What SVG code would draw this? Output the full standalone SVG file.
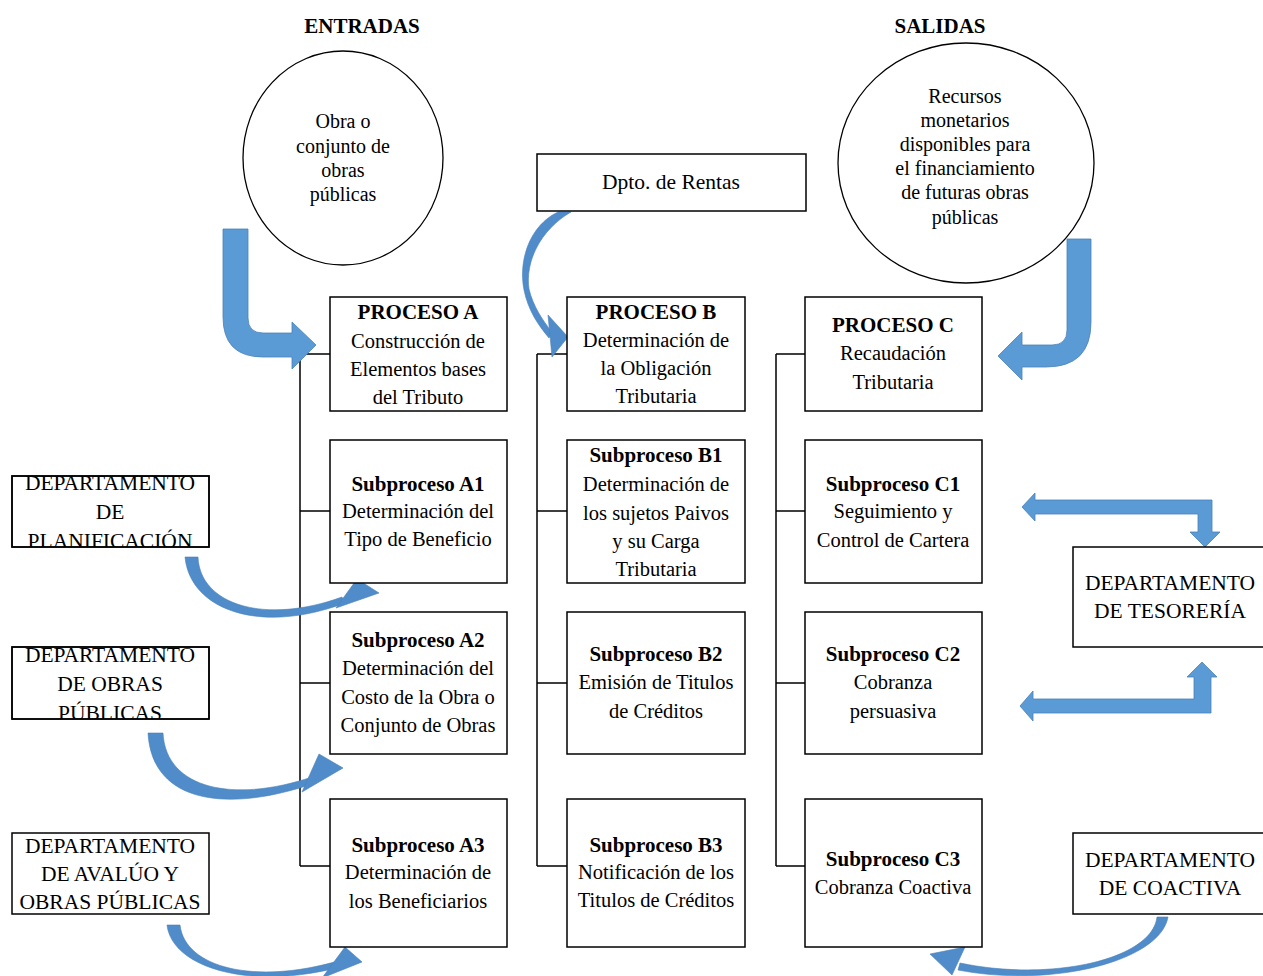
<svg xmlns="http://www.w3.org/2000/svg" width="1263" height="976" viewBox="0 0 1263 976">
<style>
.bx{fill:#fff;stroke:#000;stroke-width:1.5}
.cl{fill:#fff;stroke:#000;stroke-width:1.3}
.t{font-family:"Liberation Serif","Times New Roman",serif;font-size:20.5px;fill:#000;text-anchor:middle}
.b{font-weight:bold;font-size:21px}
.d{font-size:21.5px}
.c{font-size:20px}
.h{font-family:"Liberation Serif","Times New Roman",serif;font-size:21px;font-weight:bold;text-anchor:middle}
.ln{stroke:#000;stroke-width:1.5;fill:none}
.ar{fill:#5B9BD5;stroke:#4A82B8;stroke-width:0.8}
.cv{fill:#4F8CC9;stroke:#4A82B8;stroke-width:0.6}
</style>
<defs>
<clipPath id="cp1"><rect x="12" y="476" width="197" height="71"/></clipPath>
<clipPath id="cp2"><rect x="12" y="647" width="197" height="72"/></clipPath>
</defs>

<text class="h" x="362" y="33">ENTRADAS</text>
<text class="h" x="940" y="33">SALIDAS</text>

<g id="connectors">
<path class="ln" d="M300,354 V866 M300,354 H330 M300,511 H330 M300,683 H330 M300,866 H330"/>
<path class="ln" d="M537,354 V866 M537,354 H567 M537,511 H567 M537,683 H567 M537,866 H567"/>
<path class="ln" d="M776,354 V866 M776,354 H805 M776,511 H805 M776,683 H805 M776,866 H805"/>
<path class="ar" d="M223,229 L248,229 L248,318 Q248,333 263,333 L292,333 L292,322 L316,345 L292,369 L292,357 L263,357 Q223,357 223,317 Z"/>
<path class="ar" d="M1067,239 L1091,239 L1091,322 Q1091,367 1046,367 L1022,367 L1022,380 L998,356 L1022,332 L1022,345 L1052,345 Q1067,345 1067,330 Z"/>
<path class="cv" d="M558,212 C530,225 518,260 524,290 C528,310 538,325 549,338 L552,332 C543,321 533,306 529,289 C525,262 540,230 571,212 Z"/>
<path class="cv" d="M548,315 L568,337 L552,357 Z"/>
<path class="cv" d="M185,557 C190,610 260,635 345,603 L342,597 C265,625 200,605 198,557 Z"/>
<path class="cv" d="M336,608 L357,579 L379,593 Z"/>
<path class="cv" d="M148,733 C152,805 230,812 312,784 L312,777 C235,803 166,790 163,733 Z"/>
<path class="cv" d="M302,792 L319,754 L343,768 Z"/>
<path class="cv" d="M167,925 C172,968 250,990 336,968 L338,961 C255,985 185,968 180,925 Z"/>
<path class="cv" d="M322,978 L345,947 L362,962 Z"/>
<path class="cv" d="M1168,917 C1160,962 1050,988 958,970 L960,963 C1050,982 1152,960 1157,917 Z"/>
<path class="cv" d="M930,954 L965,947 L952,975 Z"/>
<path class="ar" d="M1022,507 L1035,493 L1035,500 L1212,500 L1212,532 L1220,532 L1205,547 L1190,532 L1198,532 L1198,514 L1035,514 L1035,521 Z"/>
<path class="ar" d="M1020,706 L1033,691 L1033,699 L1194,699 L1194,677 L1187,677 L1202,662 L1217,677 L1211,677 L1211,713 L1033,713 L1033,721 Z"/>
</g>

<g id="entrada">
<ellipse class="cl" cx="343" cy="158" rx="100" ry="107"/>
<text class="t c" x="343" y="128">Obra o</text>
<text class="t c" x="343" y="153">conjunto de</text>
<text class="t c" x="343" y="177">obras</text>
<text class="t c" x="343" y="201">públicas</text>
</g>

<g id="salida">
<ellipse class="cl" cx="966" cy="163" rx="128" ry="120"/>
<text class="t c" x="965" y="103">Recursos</text>
<text class="t c" x="965" y="127">monetarios</text>
<text class="t c" x="965" y="151">disponibles para</text>
<text class="t c" x="965" y="175">el financiamiento</text>
<text class="t c" x="965" y="199">de futuras obras</text>
<text class="t c" x="965" y="224">públicas</text>
</g>

<g id="rentas">
<rect class="bx" x="537" y="154" width="269" height="57"/>
<text class="t d" x="671" y="189">Dpto. de Rentas</text>
</g>

<g id="procesoA">
<rect class="bx" x="330" y="297" width="177" height="114"/>
<text class="t b" x="418" y="319">PROCESO A</text>
<text class="t" x="418" y="348">Construcción de</text>
<text class="t" x="418" y="376">Elementos bases</text>
<text class="t" x="418" y="404">del Tributo</text>
</g>
<g id="procesoB">
<rect class="bx" x="567" y="297" width="178" height="114"/>
<text class="t b" x="656" y="319">PROCESO B</text>
<text class="t" x="656" y="347">Determinación de</text>
<text class="t" x="656" y="375">la Obligación</text>
<text class="t" x="656" y="403">Tributaria</text>
</g>
<g id="procesoC">
<rect class="bx" x="805" y="297" width="177" height="114"/>
<text class="t b" x="893" y="332">PROCESO C</text>
<text class="t" x="893" y="360">Recaudación</text>
<text class="t" x="893" y="389">Tributaria</text>
</g>

<g id="subA1">
<rect class="bx" x="330" y="440" width="177" height="143"/>
<text class="t b" x="418" y="491">Subproceso A1</text>
<text class="t" x="418" y="518">Determinación del</text>
<text class="t" x="418" y="546">Tipo de Beneficio</text>
</g>
<g id="subA2">
<rect class="bx" x="330" y="612" width="177" height="142"/>
<text class="t b" x="418" y="647">Subproceso A2</text>
<text class="t" x="418" y="675">Determinación del</text>
<text class="t" x="418" y="704">Costo de la Obra o</text>
<text class="t" x="418" y="732">Conjunto de Obras</text>
</g>
<g id="subA3">
<rect class="bx" x="330" y="799" width="177" height="148"/>
<text class="t b" x="418" y="852">Subproceso A3</text>
<text class="t" x="418" y="879">Determinación de</text>
<text class="t" x="418" y="908">los Beneficiarios</text>
</g>

<g id="subB1">
<rect class="bx" x="567" y="440" width="178" height="143"/>
<text class="t b" x="656" y="462">Subproceso B1</text>
<text class="t" x="656" y="491">Determinación de</text>
<text class="t" x="656" y="520">los sujetos Paivos</text>
<text class="t" x="656" y="548">y su Carga</text>
<text class="t" x="656" y="576">Tributaria</text>
</g>
<g id="subB2">
<rect class="bx" x="567" y="612" width="178" height="142"/>
<text class="t b" x="656" y="661">Subproceso B2</text>
<text class="t" x="656" y="689">Emisión de Titulos</text>
<text class="t" x="656" y="718">de Créditos</text>
</g>
<g id="subB3">
<rect class="bx" x="567" y="799" width="178" height="148"/>
<text class="t b" x="656" y="852">Subproceso B3</text>
<text class="t" x="656" y="879">Notificación de los</text>
<text class="t" x="656" y="907">Titulos de Créditos</text>
</g>

<g id="subC1">
<rect class="bx" x="805" y="440" width="177" height="143"/>
<text class="t b" x="893" y="491">Subproceso C1</text>
<text class="t" x="893" y="518">Seguimiento y</text>
<text class="t" x="893" y="547">Control de Cartera</text>
</g>
<g id="subC2">
<rect class="bx" x="805" y="612" width="177" height="142"/>
<text class="t b" x="893" y="661">Subproceso C2</text>
<text class="t" x="893" y="689">Cobranza</text>
<text class="t" x="893" y="718">persuasiva</text>
</g>
<g id="subC3">
<rect class="bx" x="805" y="799" width="177" height="148"/>
<text class="t b" x="893" y="866">Subproceso C3</text>
<text class="t" x="893" y="894">Cobranza Coactiva</text>
</g>

<g id="deptPlanificacion">
<rect class="bx" x="12" y="476" width="197" height="71"/>
<g clip-path="url(#cp1)">
<text class="t d" x="110" y="490">DEPARTAMENTO</text>
<text class="t d" x="110" y="519">DE</text>
<text class="t d" x="110" y="548">PLANIFICACIÓN</text>
</g>
<rect x="12" y="476" width="197" height="71" fill="none" stroke="#000" stroke-width="1.5"/>
</g>
<g id="deptObras">
<rect class="bx" x="12" y="647" width="197" height="72"/>
<g clip-path="url(#cp2)">
<text class="t d" x="110" y="662">DEPARTAMENTO</text>
<text class="t d" x="110" y="691">DE OBRAS</text>
<text class="t d" x="110" y="720">PÚBLICAS</text>
</g>
<rect x="12" y="647" width="197" height="72" fill="none" stroke="#000" stroke-width="1.5"/>
</g>
<g id="deptAvaluo">
<rect class="bx" x="12" y="833" width="197" height="81"/>
<text class="t d" x="110" y="853">DEPARTAMENTO</text>
<text class="t d" x="110" y="881">DE AVALÚO Y</text>
<text class="t d" x="110" y="909">OBRAS PÚBLICAS</text>
</g>
<g id="deptTesoreria">
<rect class="bx" x="1073" y="547" width="200" height="100"/>
<text class="t d" x="1170" y="590">DEPARTAMENTO</text>
<text class="t d" x="1170" y="618">DE TESORERÍA</text>
</g>
<g id="deptCoactiva">
<rect class="bx" x="1073" y="833" width="200" height="81"/>
<text class="t d" x="1170" y="867">DEPARTAMENTO</text>
<text class="t d" x="1170" y="895">DE COACTIVA</text>
</g>
</svg>
